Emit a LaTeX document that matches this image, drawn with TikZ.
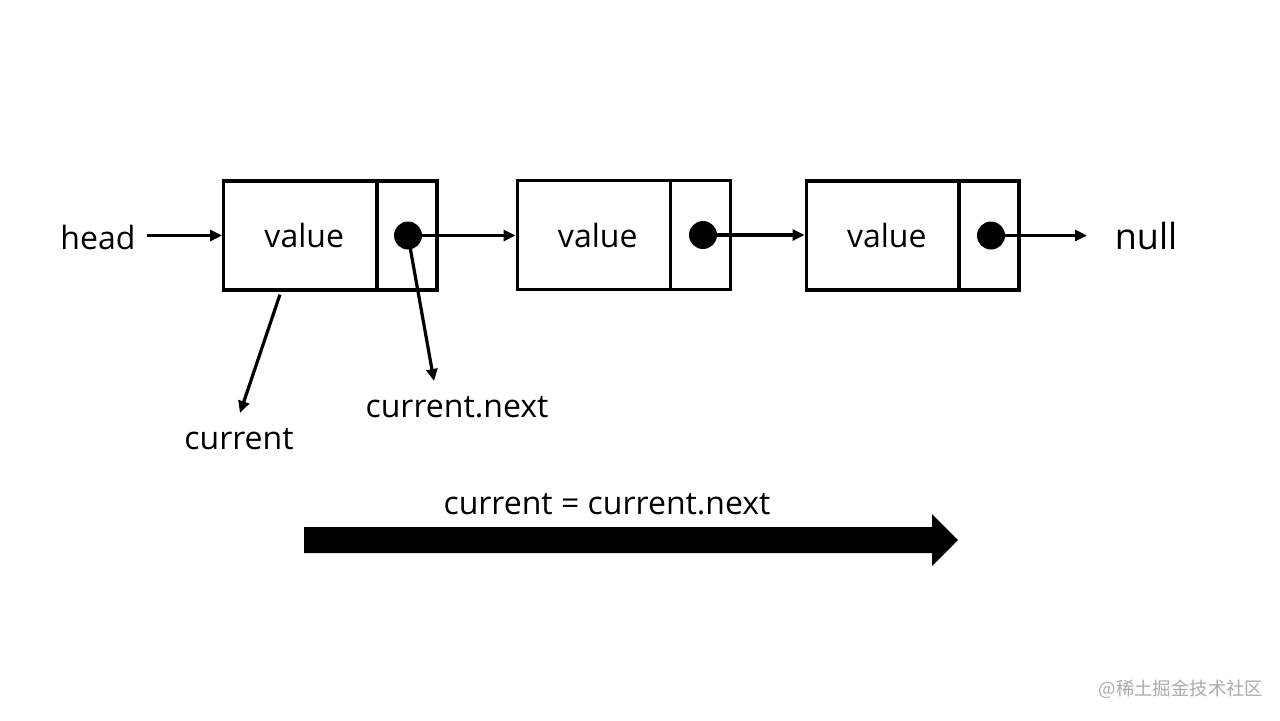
\documentclass[tikz,border=0pt]{standalone}
\usepackage{fontspec}
\setmainfont{Open Sans}
\newfontfamily\cjk{Noto Sans CJK SC}
\usetikzlibrary{arrows.meta,calc}
\begin{document}
\begin{tikzpicture}[x=0.5pt,y=-0.5pt,
  valbox/.style={draw,line width=1.7pt,inner sep=0pt,minimum width=76.5pt,minimum height=54.5pt,font=\fontsize{16}{19}\selectfont},
  ptrbox/.style={draw,line width=1.7pt,inner sep=0pt,minimum width=30pt,minimum height=54.5pt},
  dot/.style={circle,fill=black,inner sep=0pt,minimum size=14pt},
  lbl/.style={font=\fontsize{16}{19}\selectfont,inner sep=1pt},
  arr/.style={line width=1.6pt,-{Triangle[length=6pt,width=5.5pt]}}]
\fill[white] (0,0) rectangle (1280,720);
\useasboundingbox (0,0) rectangle (1280,720);
% boxes
\node[valbox] (v1) at (300.25,235.5) {\hspace*{4pt}value};
\node[ptrbox] (p1) at (407,235.5) {};
\node[valbox] (v2) at (593.75,235) {\hspace*{4pt}value};
\node[ptrbox] (p2) at (700.5,235) {};
\node[valbox] (v3) at (882.75,235.5) {\hspace*{4pt}value};
\node[ptrbox] (p3) at (989,235.5) {};
\node[dot] (d1) at (408,235.5) {};
\node[dot] (d2) at (703,235) {};
\node[dot] (d3) at (991,235.5) {};
% labels
\node[lbl] (head) at (98,237) {head};
\node[lbl,font=\fontsize{18}{21}\selectfont] (null) at (1146,236) {null};
\node[lbl] (cur) at (239,439) {current};
\node[lbl] (nx) at (457,407) {current.next};
\node[lbl] (asg) at (607,504) {current = current.next};
\node[font=\cjk\fontsize{9.2}{11}\selectfont,text=black!33,inner sep=0pt] (wm) at (1181,689) {@稀土掘金技术社区};
% connectors
\coordinate (hs) at (147,235.5);
\draw[arr] (hs) -- (v1.west);
\draw[arr] (d1.east) -- (d1.east -| v2.west);
\draw[arr] (d2.east) -- (d2.east -| v3.west);
\coordinate (ne) at (1087,235.5);
\draw[arr] (d3.east) -- (ne);
\coordinate (cs) at ($(v1.south west)!0.37!(v1.south east)+(0,3)$);
\coordinate (ce) at (240,413);
\draw[arr] (cs) -- (ce);
\coordinate (ne2) at (434,381);
\draw[arr] (d1.center) -- (ne2);
% big arrow
\fill[black] (304,527) -- (932,527) -- (932,514) -- (958,540) -- (932,566) -- (932,553) -- (304,553) -- cycle;
\end{tikzpicture}
\end{document}
